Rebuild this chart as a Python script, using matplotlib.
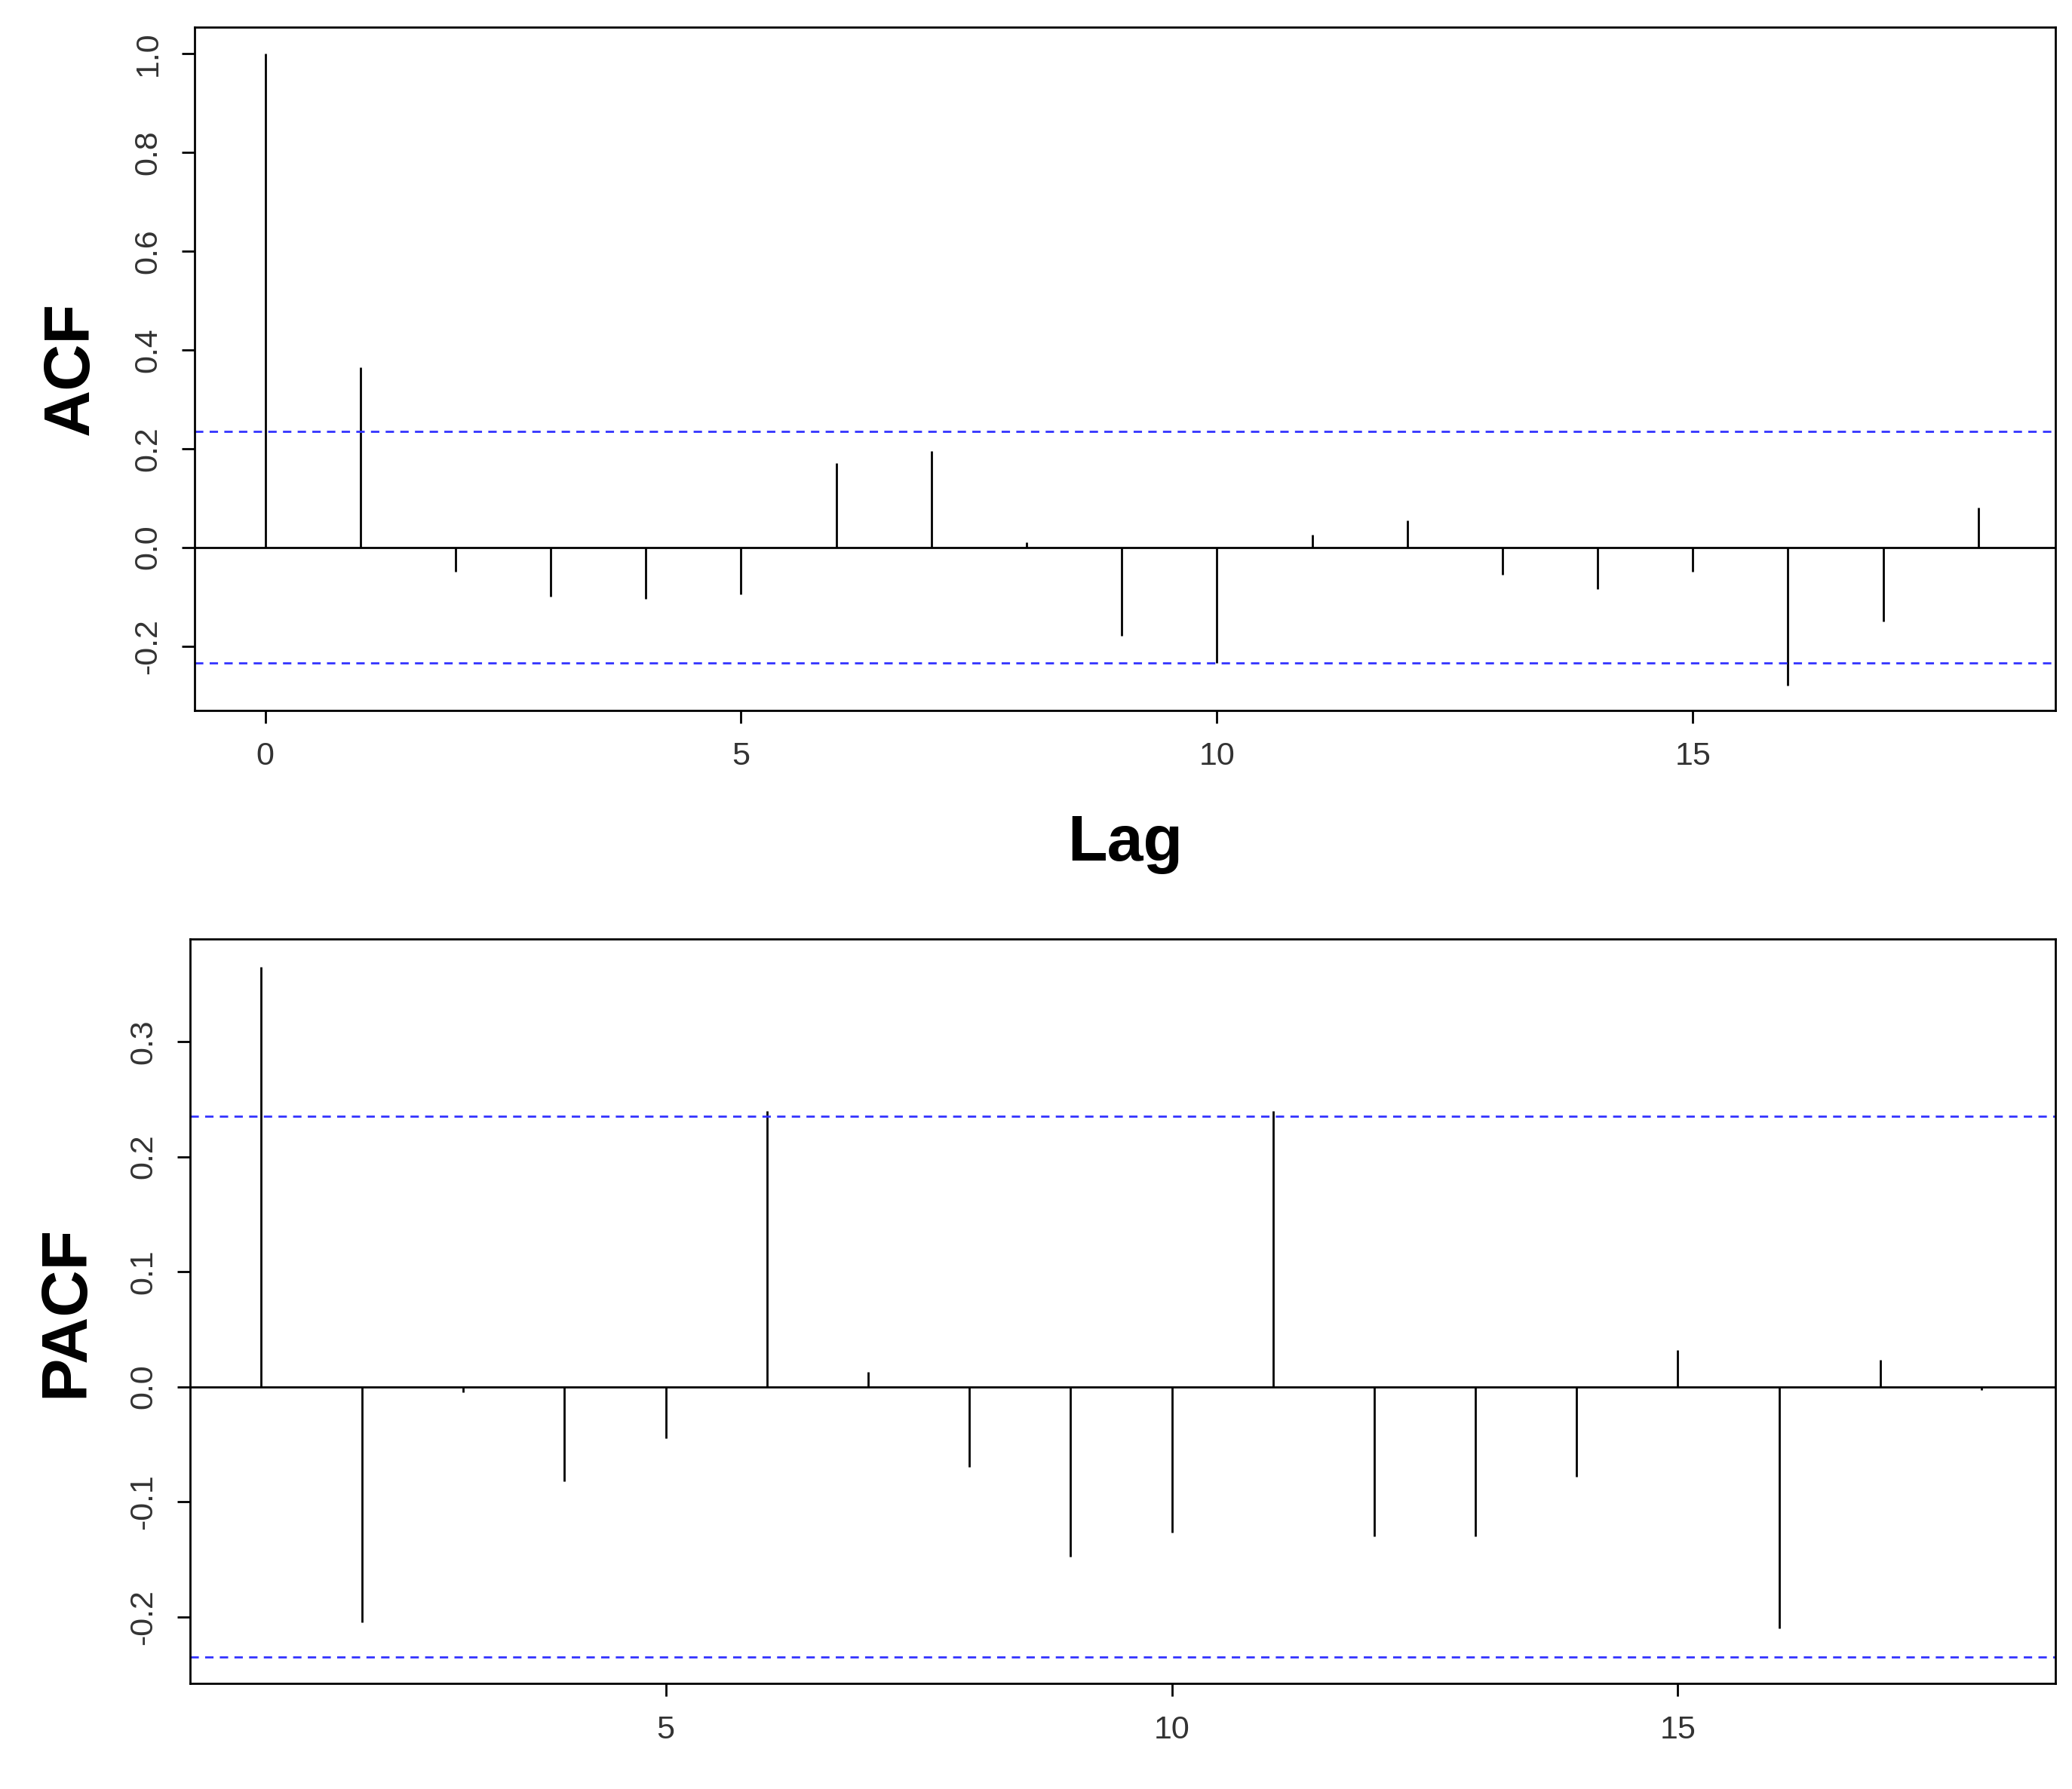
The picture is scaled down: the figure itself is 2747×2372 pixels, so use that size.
import matplotlib
matplotlib.use("Agg")
import matplotlib.pyplot as plt

plt.rcParams['font.family'] = ['Liberation Sans', 'DejaVu Sans']

# ACF values, lags 0..18
acf_lags = list(range(0, 19))
acf_vals = [1.0, 0.365, -0.05, -0.10, -0.105, -0.095, 0.17, 0.195, 0.01, -0.18,
            -0.235, 0.025, 0.055, -0.055, -0.085, -0.05, -0.28, -0.15, 0.08]

# PACF values, lags 1..18
pacf_lags = list(range(1, 19))
pacf_vals = [0.365, -0.205, -0.005, -0.082, -0.045, 0.24, 0.013, -0.07, -0.148,
             -0.127, 0.24, -0.13, -0.13, -0.078, 0.032, -0.21, 0.023, -0.003]

ci = 0.235

fig = plt.figure(figsize=(27.47, 23.72), dpi=100)
ax1 = fig.add_axes([0.094, 0.603, 0.898, 0.382])
ax2 = fig.add_axes([0.0917, 0.059, 0.9003, 0.416])

for ax, lags, vals in [(ax1, acf_lags, acf_vals), (ax2, pacf_lags, pacf_vals)]:
    ax.vlines(lags, 0, vals, color="black", linewidth=2)
    ax.axhline(0, color="black", linewidth=2)
    for c in (ci, -ci):
        ax.axhline(c, color="#3333ff", linestyle=(0, (4, 3)), linewidth=2)
    for s in ax.spines.values():
        s.set_linewidth(2)
    ax.tick_params(axis="both", labelsize=31, width=2, length=12, pad=18,
                   colors="black", labelcolor="#333333")

ax1.set_xlim(-0.74, 18.81)
ax1.set_ylim(-0.33, 1.054)
ax1.set_xticks([0, 5, 10, 15])
ax1.set_yticks([-0.2, 0.0, 0.2, 0.4, 0.6, 0.8, 1.0])
ax1.set_yticklabels(["-0.2", "0.0", "0.2", "0.4", "0.6", "0.8", "1.0"],
                    rotation=90, va="center")
ax1.set_ylabel("ACF", fontsize=62, fontweight="bold", labelpad=30)
ax1.set_xlabel("Lag", fontsize=62, fontweight="bold", labelpad=40)

ax2.set_xlim(0.30, 18.73)
ax2.set_ylim(-0.258, 0.389)
ax2.set_xticks([5, 10, 15])
ax2.set_yticks([-0.2, -0.1, 0.0, 0.1, 0.2, 0.3])
ax2.set_yticklabels(["-0.2", "-0.1", "0.0", "0.1", "0.2", "0.3"],
                    rotation=90, va="center")
ax2.set_ylabel("PACF", fontsize=62, fontweight="bold", labelpad=30)

fig.savefig("out.png", dpi=100)
